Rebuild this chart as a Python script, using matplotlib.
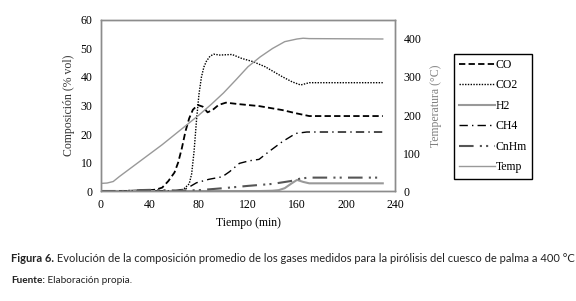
"""Evolución de la composición de gases - pirólisis cuesco de palma"""

import matplotlib
matplotlib.use("Agg")
import matplotlib.pyplot as plt
from matplotlib.transforms import offset_copy

plt.rcParams["font.family"] = ["Liberation Serif", "DejaVu Serif"]

# datos (tiempo en min, composición en % vol, temperatura en °C)
t_co = [0, 10, 20, 30, 40, 45, 50, 55, 60, 63, 66, 69, 72, 75, 79, 83, 87, 91, 96, 102, 112, 129, 148, 160, 170, 230]
co = [0, 0, 0, 0.2, 0.3, 0.5, 1.2, 3.5, 6.5, 10, 15, 21, 25.5, 28.5, 30.2, 29.6, 27.6, 28.4, 30.2, 31, 30.5, 29.8, 28.4, 27.2, 26.3, 26.3]

t_co2 = [0, 60, 65, 68, 72, 74, 76, 78, 80, 82, 84, 86, 89, 92, 97, 107, 115, 124, 134, 148, 156, 163, 170, 230]
co2 = [0, 0, 0.3, 0.9, 2.5, 6, 14, 25, 34, 40, 43.5, 45.5, 47.3, 48, 47.7, 47.9, 46.5, 45.4, 43.6, 40.1, 38.3, 37.2, 38, 38]

t_h2 = [0, 130, 140, 145, 150, 155, 160, 165, 170, 230]
h2 = [0, 0, 0.1, 0.3, 1.0, 2.5, 3.9, 3.2, 2.7, 2.7]

t_ch4 = [0, 60, 70, 78, 88, 99, 105, 113, 121, 129, 137, 148, 159, 168, 230]
ch4 = [0, 0, 0.9, 2.9, 4.1, 5, 6.8, 9.7, 10.6, 11.1, 13.8, 17.3, 20.2, 20.7, 20.7]

t_cnhm = [0, 20, 30, 40, 50, 60, 70, 80, 100, 120, 140, 155, 163, 170, 230]
cnhm = [0, 0, 0.3, 0.4, 0.3, 0.2, 0.2, 0.3, 1.0, 1.8, 2.5, 3.5, 4.4, 4.7, 4.7]

t_temp = [0, 5, 10, 15, 20, 30, 40, 50, 60, 70, 80, 90, 100, 110, 120, 130, 140, 150, 160, 165, 170, 230]
temp = [20, 21, 25, 38, 50, 74, 98, 122, 148, 174, 200, 228, 258, 292, 327, 353, 375, 393, 400, 402, 401, 400]

x_ticks = [0, 40, 80, 120, 160, 200, 240]
y_ticks = [0, 10, 20, 30, 40, 50, 60]
y2_ticks = [0, 100, 200, 300, 400]

fig = plt.figure(figsize=(5.76, 3.01), dpi=100)
ax = fig.add_axes([0.1753, 0.3654, 0.5105, 0.5682])
ax2 = ax.twinx()

l_co, = ax.plot(t_co, co, color="black", lw=1.3, dashes=(3.5, 1.8), label="CO")
l_co2, = ax.plot(t_co2, co2, color="black", lw=1.0, dashes=(1, 1), label="CO2")
l_h2, = ax.plot(t_h2, h2, color="#999999", lw=1.5, label="H2")
l_ch4, = ax.plot(t_ch4, ch4, color="black", lw=1.0, dashes=(6, 3, 1, 3), label="CH4")
l_cnhm, = ax.plot(t_cnhm, cnhm, color="#555555", lw=1.5, dashes=(7, 3, 1, 2, 1, 3), label="CnHm")
l_temp, = ax2.plot(t_temp, temp, color="#999999", lw=1.0, label="Temp")

ax.set_xlim(0, 240)
ax.set_ylim(0, 60)
ax2.set_ylim(0, 450)
ax.set_xticks(x_ticks)
ax.set_yticks(y_ticks)
ax2.set_yticks(y2_ticks)

for a in (ax, ax2):
    a.tick_params(length=0, labelsize=8.5, pad=6)
    for s in a.spines.values():
        s.set_color("#8c8c8c")
        s.set_linewidth(1.0)

ax.set_xlabel("Tiempo (min)", fontsize=8.5, labelpad=4)
ax.set_ylabel("Composición (% vol)", fontsize=8.5, color="#333333", labelpad=4)
ax2.set_ylabel("Temperatura (°C)", fontsize=8.5, color="#808080", labelpad=6)

handles = [l_co, l_co2, l_h2, l_ch4, l_cnhm, l_temp]
leg = fig.legend(handles, [h.get_label() for h in handles],
                 loc="upper left", bbox_to_anchor=(0.788, 0.822),
                 fontsize=8.5, frameon=True, fancybox=False,
                 edgecolor="black", framealpha=1, labelspacing=0.72,
                 handlelength=3.0, handletextpad=0.1, borderpad=0.45,
                 borderaxespad=0)
leg.get_frame().set_linewidth(1.0)

# pie de figura
cap_font = ["Lato", "DejaVu Sans"]
r = fig.canvas.get_renderer()
x0 = 11 / 576
t1 = fig.text(x0, 1 - 262 / 301, "Figura 6.", fontsize=8, family=cap_font,
              weight="bold", va="baseline", color="#222222")
w = t1.get_window_extent(r).width
fig.text(x0, 1 - 262 / 301,
         " Evolución de la composición promedio de los gases medidos para la pirólisis del cuesco de palma a 400 °C",
         fontsize=8, family=cap_font, va="baseline", color="#222222",
         transform=offset_copy(fig.transFigure, fig=fig, x=w, y=0, units="dots"))
t2 = fig.text(x0, 1 - 283 / 301, "Fuente:", fontsize=7.2, family=cap_font,
              weight="bold", va="baseline", color="#222222")
w2 = t2.get_window_extent(r).width
fig.text(x0, 1 - 283 / 301, " Elaboración propia.", fontsize=7.2, family=cap_font,
         va="baseline", color="#222222",
         transform=offset_copy(fig.transFigure, fig=fig, x=w2, y=0, units="dots"))

fig.savefig("out.png", dpi=100)
